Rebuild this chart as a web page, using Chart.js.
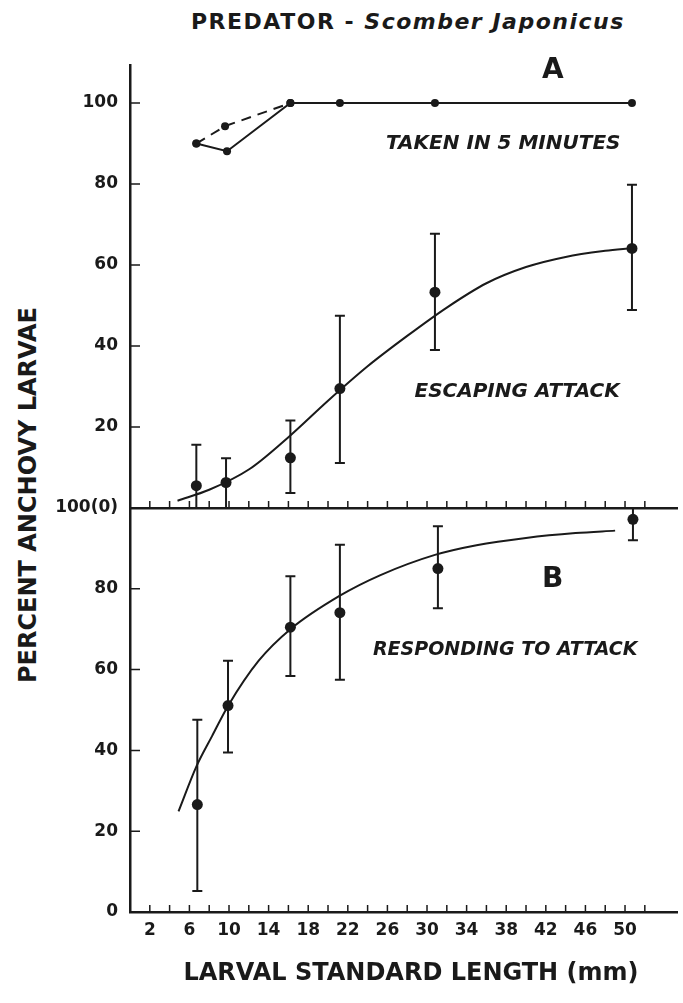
<!DOCTYPE html>
<html lang="en">
<head>
<meta charset="UTF-8">
<title>Predator - Scomber japonicus</title>
<script src="https://cdn.jsdelivr.net/npm/chart.js"></script>
<style>
  body { margin: 0; background: #fff; }
  #wrap { position: relative; width: 683px; height: 1003px; overflow: hidden;
          font-family: "DejaVu Sans", sans-serif; color: #1a1a1a; }
  canvas { position: absolute; left: 0; }
  #chartA { top: 0; }
  #chartB { top: 480px; }
  .title { position: absolute; left: 191px; top: 8px; font-size: 22px; font-weight: bold;
           letter-spacing: 1.5px; white-space: nowrap; line-height: 28px; }
  .title i { font-style: oblique; }
  .ytitle { position: absolute; left: -172px; top: 480px; width: 400px; height: 30px; line-height: 30px;
            text-align: center; transform: rotate(-90deg); font-size: 24px; font-weight: bold; white-space: nowrap; }
  .xtitle { position: absolute; left: 111px; top: 958px; width: 600px; line-height: 28px;
            text-align: center; font-size: 24px; font-weight: bold; white-space: nowrap; }
</style>
</head>
<body>
<div id="wrap">
  <div class="title">PREDATOR - <i>Scomber Japonicus</i></div>
  <div class="ytitle">PERCENT ANCHOVY LARVAE</div>
  <canvas id="chartA" width="683" height="540"></canvas>
  <canvas id="chartB" width="683" height="523"></canvas>
  <div class="xtitle">LARVAL STANDARD LENGTH (mm)</div>
</div>

<script>
// --- data ---
// panel A, taken in 5 minutes
const takenX      = [6.7, 9.8, 16.2, 21.2, 30.8, 50.7];
const takenY      = [90, 88.1, 100, 100, 100, 100];
const takenDashX  = [6.7, 9.6, 16.2];
const takenDashY  = [90, 94.3, 100];

// panel A, escaping attack (mean, error bar ends, fitted curve)
const escapeX     = [6.7, 9.7, 16.2, 21.2, 30.8, 50.7];
const escapeY     = [5.5, 6.3, 12.4, 29.5, 53.3, 64.1];
const escapeHigh  = [15.6, 12.3, 21.6, 47.5, 67.7, 79.8];
const escapeLow   = [0, 0, 3.7, 11.1, 39.0, 48.9];
const escapeCurveX = [4.8, 8, 12, 16, 20, 24, 28, 32, 36, 40, 44, 48, 50.7];
const escapeCurveY = [1.8, 4.5, 9.5, 17.5, 26.5, 35, 42.5, 49.5, 55.5, 59.5, 62, 63.5, 64.2];

// panel B, responding to attack
const respondX    = [6.8, 9.9, 16.2, 21.2, 31.1, 50.8];
const respondY    = [26.6, 51.1, 70.5, 74.1, 85, 97.2];
const respondHigh = [47.6, 62.2, 83.1, 90.9, 95.5, 100];
const respondLow  = [5.2, 39.5, 58.4, 57.5, 75.2, 92];
const respondCurveX = [4.9, 6.7, 8.3, 9.9, 13, 16.2, 21.2, 25.3, 30.8, 35, 40, 45, 49];
const respondCurveY = [24.9, 36, 43.6, 51, 62.2, 70, 78.3, 83.4, 88.4, 90.8, 92.6, 93.8, 94.4];

// axes
const xTickMarks  = [2, 4, 6, 8, 10, 12, 14, 16, 18, 20, 22, 24, 26, 28, 30, 32, 34, 36, 38, 40, 42, 44, 46, 48, 50, 52];
const xTickLabels = [2, 6, 10, 14, 18, 22, 26, 30, 34, 38, 42, 46, 50];
const yTicksA     = [20, 40, 60, 80, 100];
const yTicksB     = [0, 20, 40, 60, 80, 100];
const yLabelsB    = ['0', '20', '40', '60', '80', '100(0)'];

const ink = '#1a1a1a';
const pts = (xs, ys) => xs.map((x, i) => ({ x: x, y: ys[i] }));

Chart.defaults.font.family = '"DejaVu Sans", sans-serif';
Chart.defaults.color = ink;

// tick marks point into the plot in the original
const inwardTicks = {
  id: 'inwardTicks',
  afterDraw(chart) {
    const { ctx, chartArea, scales } = chart;
    ctx.save();
    ctx.strokeStyle = ink;
    ctx.lineWidth = 1.5;
    ctx.beginPath();
    xTickMarks.forEach(v => {
      const px = scales.x.getPixelForValue(v);
      ctx.moveTo(px, chartArea.bottom);
      ctx.lineTo(px, chartArea.bottom - 7);
    });
    scales.y.ticks.forEach(t => {
      const py = scales.y.getPixelForValue(t.value);
      ctx.moveTo(chartArea.left, py);
      ctx.lineTo(chartArea.left + 10, py);
    });
    ctx.stroke();
    ctx.restore();
  }
};

const errorBars = {
  id: 'errorBars',
  afterDatasetsDraw(chart) {
    const { ctx, scales } = chart;
    chart.data.datasets.forEach(ds => {
      if (!ds.errHigh) return;
      ctx.save();
      ctx.strokeStyle = ink;
      ctx.lineWidth = 2;
      ds.data.forEach((p, i) => {
        const px = scales.x.getPixelForValue(p.x);
        const top = scales.y.getPixelForValue(ds.errHigh[i]);
        const bot = scales.y.getPixelForValue(ds.errLow[i]);
        ctx.beginPath();
        ctx.moveTo(px, top); ctx.lineTo(px, bot);
        ctx.moveTo(px - 5, top); ctx.lineTo(px + 5, top);
        ctx.moveTo(px - 5, bot); ctx.lineTo(px + 5, bot);
        ctx.stroke();
      });
      ctx.restore();
    });
  }
};

// panel letters and curve captions
const notes = {
  id: 'notes',
  afterDraw(chart, args, opts) {
    const { ctx, scales } = chart;
    ctx.save();
    ctx.fillStyle = ink;
    ctx.textAlign = 'center';
    ctx.textBaseline = 'middle';
    (opts.items || []).forEach(n => {
      ctx.font = n.font;
      ctx.fillText(n.text, scales.x.getPixelForValue(n.x), scales.y.getPixelForValue(n.y));
    });
    ctx.restore();
  }
};

function xScale(showLabels, height) {
  return {
    type: 'linear', min: 0, max: 55.3,
    grid: { display: false, drawTicks: false },
    border: { display: true, color: ink, width: 2.5 },
    afterBuildTicks: s => { s.ticks = xTickMarks.map(v => ({ value: v })); },
    afterFit: s => { s.height = height; },
    ticks: {
      display: showLabels, autoSkip: false, maxRotation: 0, padding: 8,
      font: { size: 17, weight: 'bold' },
      callback: v => xTickLabels.includes(v) ? String(v) : ''
    }
  };
}

function yScale(max, values, labels) {
  return {
    type: 'linear', min: 0, max: max,
    grid: { display: false, drawTicks: false },
    border: { display: true, color: ink, width: 2.5 },
    afterBuildTicks: s => { s.ticks = values.map(v => ({ value: v })); },
    afterFit: s => { s.width = 130; },
    ticks: {
      padding: 12,
      font: { size: 17, weight: 'bold' },
      callback: v => labels[values.indexOf(v)]
    }
  };
}

const baseOptions = {
  responsive: false,
  animation: false,
  devicePixelRatio: 1,
  plugins: { legend: { display: false }, tooltip: { enabled: false } }
};

new Chart(document.getElementById('chartA'), {
  type: 'line',
  data: {
    datasets: [
      { data: pts(takenX, takenY), borderColor: ink, borderWidth: 2,
        pointRadius: 4, pointBackgroundColor: ink, pointBorderWidth: 0 },
      { data: pts(takenDashX, takenDashY), borderColor: ink, borderWidth: 2, borderDash: [10, 7],
        pointRadius: 4, pointBackgroundColor: ink, pointBorderWidth: 0 },
      { data: pts(escapeCurveX, escapeCurveY), borderColor: ink, borderWidth: 2,
        cubicInterpolationMode: 'monotone', pointRadius: 0 },
      { data: pts(escapeX, escapeY), showLine: false, errHigh: escapeHigh, errLow: escapeLow,
        pointRadius: 5.5, pointBackgroundColor: ink, pointBorderWidth: 0 }
    ]
  },
  options: {
    ...baseOptions,
    layout: { padding: { top: 65, left: 0, right: 0, bottom: 0 } },
    scales: { x: xScale(false, 32), y: yScale(109.4, yTicksA, yTicksA.map(String)) },
    plugins: {
      ...baseOptions.plugins,
      notes: { items: [
        { text: 'A', x: 42.7, y: 108.1, font: 'bold 28px "DejaVu Sans"' },
        { text: 'TAKEN IN 5 MINUTES', x: 37.7, y: 89.9, font: 'italic bold 20px "DejaVu Sans"' },
        { text: 'ESCAPING ATTACK', x: 39.1, y: 28.6, font: 'italic bold 20px "DejaVu Sans"' }
      ] }
    }
  },
  plugins: [inwardTicks, errorBars, notes]
});

new Chart(document.getElementById('chartB'), {
  type: 'line',
  data: {
    datasets: [
      { data: pts(respondCurveX, respondCurveY), borderColor: ink, borderWidth: 2,
        cubicInterpolationMode: 'monotone', pointRadius: 0 },
      { data: pts(respondX, respondY), showLine: false, errHigh: respondHigh, errLow: respondLow,
        pointRadius: 5.5, pointBackgroundColor: ink, pointBorderWidth: 0 }
    ]
  },
  options: {
    ...baseOptions,
    layout: { padding: { top: 28, left: 0, right: 0, bottom: 0 } },
    scales: { x: xScale(true, 91), y: yScale(100, yTicksB, yLabelsB) },
    plugins: {
      ...baseOptions.plugins,
      notes: { items: [
        { text: 'B', x: 42.7, y: 82.2, font: 'bold 28px "DejaVu Sans"' },
        { text: 'RESPONDING TO ATTACK', x: 37.9, y: 64.9, font: 'italic bold 19px "DejaVu Sans"' }
      ] }
    }
  },
  plugins: [inwardTicks, errorBars, notes]
});
</script>
</body>
</html>
